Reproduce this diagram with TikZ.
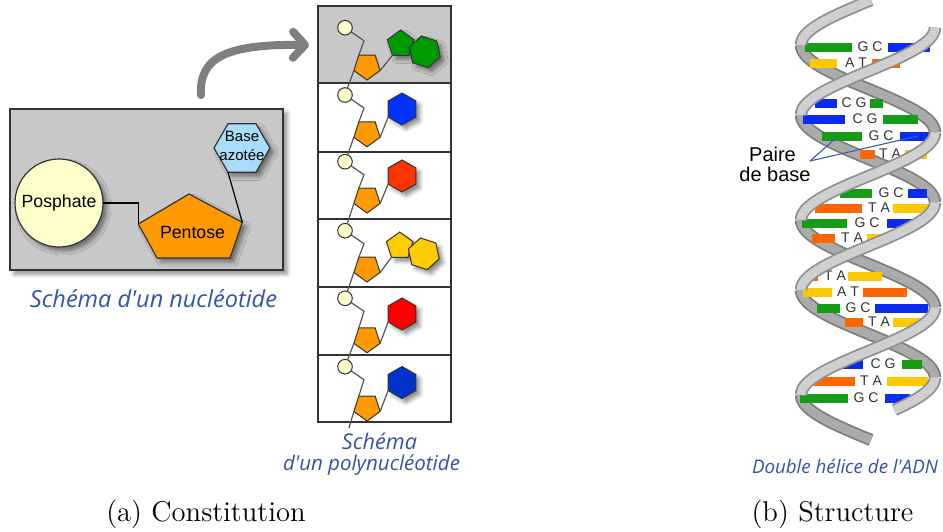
\documentclass[tikz,border=0pt]{standalone}
\usepackage{fontspec}
\usepackage{graphicx}
\usetikzlibrary{shapes.geometric,arrows.meta,shadows.blur}
\newfontfamily\labelfont{Liberation Sans}
\newfontfamily\handfont{Open Sans}

\definecolor{panelgray}{HTML}{C8C8C8}
\definecolor{edgegray}{HTML}{333333}
\definecolor{phosyellow}{HTML}{FFFFCC}
\definecolor{sugarorange}{HTML}{FF9900}
\definecolor{baseblue}{HTML}{A8DCF8}
\definecolor{arrowgray}{HTML}{7F7F7F}
\definecolor{inkblue}{HTML}{3452A8}
\definecolor{chaingray}{HTML}{555555}
\definecolor{purgreen}{HTML}{009900}
\definecolor{pyrblue}{HTML}{0033FF}
\definecolor{pyrorange}{HTML}{FF3300}
\definecolor{puryellow}{HTML}{FFCC00}
\definecolor{pyrred}{HTML}{FF0000}
\definecolor{pyrnavy}{HTML}{0033CC}
\definecolor{dnagreen}{HTML}{169B16}
\definecolor{dnablue}{HTML}{0A2BF0}
\definecolor{dnayellow}{HTML}{FFC800}
\definecolor{dnaorange}{HTML}{FF6600}
\definecolor{ribfront}{HTML}{CFCFCF}
\definecolor{ribfrontedge}{HTML}{909090}
\definecolor{ribback}{HTML}{ABABAB}
\definecolor{ribbackedge}{HTML}{7E7E7E}
\definecolor{lettergray}{HTML}{333333}
\definecolor{pointerblue}{HTML}{3A5BB0}

\tikzset{
  every node/.style={inner sep=0pt, outer sep=0pt},
  softshadow/.style={blur shadow={shadow xshift=2pt, shadow yshift=-2pt,
      shadow blur radius=2pt, shadow opacity=45}},
  panelbox/.style={rectangle, draw=edgegray, fill=panelgray, line width=0.7pt, softshadow},
  bigtext/.style={font=\labelfont\fontsize{8.85}{10}\selectfont, text=black},
  smalltext/.style={font=\labelfont\fontsize{7.5}{9}\selectfont, text=black},
  link/.style={draw=black, line width=0.6pt},
  phosbig/.style={circle, draw=edgegray, fill=phosyellow, line width=0.6pt,
      minimum size=44pt, softshadow},
  sugarbig/.style={fill=sugarorange, draw=edgegray, line width=0.6pt, softshadow},
  basebig/.style={regular polygon, regular polygon sides=6, draw=edgegray,
      fill=baseblue, line width=0.6pt, minimum size=28pt, softshadow},
  bigarrow/.style={draw=arrowgray, line width=4pt, line cap=round,
      -{Straight Barb[length=6pt,width=13pt,round]}},
  cellframe/.style={draw=edgegray, line width=0.8pt},
  phos/.style={circle, draw=edgegray, fill=phosyellow, line width=0.5pt, minimum size=7.3pt},
  sugar/.style={regular polygon, regular polygon sides=5, shape border rotate=180,
      draw=edgegray, fill=sugarorange, line width=0.5pt, minimum size=13.8pt},
  pyr/.style={regular polygon, regular polygon sides=6, shape border rotate=30,
      draw=edgegray, line width=0.5pt, minimum size=16pt, softshadow},
  purpent/.style={regular polygon, regular polygon sides=5,
      draw=edgegray, line width=0.5pt, minimum size=14pt, softshadow},
  purhex/.style={regular polygon, regular polygon sides=6, shape border rotate=-18,
      draw=edgegray, line width=0.5pt, minimum size=16.2pt, softshadow},
  chain/.style={draw=chaingray, line width=0.6pt},
  hand/.style={font=\handfont\itshape, text=inkblue},
  subcap/.style={font=\fontsize{14.3}{17}\selectfont, text=black},
  ribbonfront/.style={draw=ribfrontedge, line width=0.9pt, double=ribfront, double distance=4.4pt},
  ribbonback/.style={draw=ribbackedge, line width=0.9pt, double=ribback, double distance=4.4pt},
  basetxt/.style={font=\labelfont\fontsize{7}{8}\selectfont, text=lettergray},
  pairtxt/.style={font=\labelfont\fontsize{10}{12}\selectfont, text=black},
  pointer/.style={draw=pointerblue, line width=0.55pt},
}

% one pyrimidine nucleotide of the chain: id, phosphate y, sugar y, base y, colour
\newcommand\pyrrow[5]{%
  \node[phos] (c#1) at (345,#2) {};
  \node[sugar] (s#1) at (367,#3) {};
  \node[pyr, fill=#5] (b#1) at (402,#4) {};
  \draw[chain] (c#1) -- (364,#2+13) -- (s#1.corner 4);
  \draw[chain] (s#1.corner 2) -- (b#1.corner 3);
}
% one purine nucleotide: id, phosphate y, sugar y, ring x, ring y, colour
\newcommand\purrow[6]{%
  \node[phos] (c#1) at (345,#2) {};
  \node[sugar] (s#1) at (367,#3) {};
  \node[purpent, fill=#6] (b#1) at (#4,#5) {};
  \node[purhex, fill=#6] (h#1) at (#4+24.1,#5+7.84) {};
  \draw[chain] (c#1) -- (364,#2+13) -- (s#1.corner 4);
  \draw[chain] (s#1.corner 2) -- (b#1.corner 3);
}
% one base pair of the helix: y, left bar x1, x2, colour, letters, letters x, right bar x1, x2, colour
\newcommand\bpair[9]{%
  \fill[#4] (#2,#1-4.5) rectangle (#3,#1+4.5);
  \fill[#9] (#7,#1-4.5) rectangle (#8,#1+4.5);
  \node[basetxt] (bp#1) at (#6,#1) {#5};
}

\begin{document}
\begin{tikzpicture}[x=0.5pt, y=-0.5pt,
  declare function={sa(\t)=868+67*sin(2.0571429*(\t+86.25));
                    sb(\t)=868+67*sin(2.0571429*(\t+16.25));}]
\useasboundingbox (0,0) rectangle (943,531);

% ---------- single nucleotide ----------
\node[panelbox, minimum width=136.5pt, minimum height=80.5pt] (panel) at (146.5,189.5) {};
\coordinate (pentTop) at (189,194);
\coordinate (pentRight) at (242.3,222.3);
\coordinate (pentBR) at (230,258);
\coordinate (pentBL) at (157,258);
\coordinate (pentLeft) at (138.3,224);
\filldraw[sugarbig] (pentTop) -- (pentRight) -- (pentBR) -- (pentBL) -- (pentLeft) -- cycle;
\node[bigtext] (pentose) at (192.5,232) {Pentose};
\node[phosbig, bigtext] (posphate) at (59,203) {Posphate};
\node[basebig] (base) at (242,148) {};
\node[smalltext, anchor=base] (baseA) at (242,141.5) {Base};
\node[smalltext, anchor=base] (baseB) at (242,160) {azotée};
\draw[link] (posphate.east) -| (pentLeft);
\draw[link] (base.corner 4) -- (pentRight);

\node[hand] (capnuc) at (153.5,299) {\resizebox{123.5pt}{!}{Schéma d'un nucléotide}};

% curved arrow towards the chain
\coordinate (arrowfoot) at (201,95);
\coordinate (arrowtip) at (309,45);
\draw[bigarrow] (arrowfoot) .. controls (199,58) and (225,44) .. (arrowtip);

% ---------- polynucleotide chain ----------
\draw[cellframe, fill=panelgray] (318,6) rectangle (451,83);
\draw[cellframe] (318,83) rectangle (451,152);
\draw[cellframe] (318,152) rectangle (451,219);
\draw[cellframe] (318,219) rectangle (451,287);
\draw[cellframe] (318,287) rectangle (451,355);
\draw[cellframe] (318,355) rectangle (451,422);
\foreach \yy in {83,152,219,287,355}
  \draw[draw=edgegray, line width=1.1pt] (318,\yy) -- (451,\yy);

\purrow{1}{27.7}{66.2}{400.7}{44}{purgreen}
\pyrrow{2}{95}{133}{109}{pyrblue}
\pyrrow{3}{161.7}{199.2}{176}{pyrorange}
\purrow{4}{230.7}{268.2}{399.7}{246}{puryellow}
\pyrrow{5}{298.3}{339}{314}{pyrred}
\pyrrow{6}{366.7}{407.2}{382.5}{pyrnavy}

\coordinate (chainend) at (349,428);
\draw[chain] (s1.corner 5) -- (c2);
\draw[chain] (s2.corner 5) -- (c3);
\draw[chain] (s3.corner 5) -- (c4);
\draw[chain] (s4.corner 5) -- (c5);
\draw[chain] (s5.corner 5) -- (c6);
\draw[chain] (s6.corner 5) -- (chainend);

\node[hand] (cappolyA) at (379.5,441) {\resizebox{37.5pt}{!}{Schéma}};
\node[hand] (cappolyB) at (371.5,465) {\resizebox{88.5pt}{!}{d'un polynucléotide}};

% ---------- double helix ----------
% rear halves of both strands
\draw[ribbonback] plot[domain=45:132.5, samples=40, variable=\t] ({sa(\t)},{\t});
\draw[ribbonback] plot[domain=220:307.5, samples=40, variable=\t] ({sa(\t)},{\t});
\draw[ribbonback] plot[domain=395:440, samples=25, variable=\t] ({sa(\t)},{\t});
\draw[ribbonback] plot[domain=115:202.5, samples=40, variable=\t] ({sb(\t)},{\t});
\draw[ribbonback] plot[domain=290:377.5, samples=40, variable=\t] ({sb(\t)},{\t});

% base pairs
\bpair{47}{805}{852}{dnagreen}{G C}{870}{888}{930}{dnablue}
\bpair{63}{810}{837}{dnayellow}{A T}{856}{872}{900}{dnaorange}
\bpair{103}{815}{837}{dnablue}{C G}{854}{870}{883}{dnagreen}
\bpair{119}{803}{845}{dnablue}{C G}{865}{883}{918}{dnagreen}
\bpair{136}{822}{862}{dnagreen}{G C}{881}{900}{930}{dnablue}
\bpair{154}{860}{875}{dnaorange}{T A}{890}{905}{927}{dnayellow}
\bpair{193}{840}{872}{dnagreen}{G C}{891}{908}{927}{dnablue}
\bpair{208}{815}{862}{dnaorange}{T A}{879}{893}{928}{dnayellow}
\bpair{223}{802}{847}{dnagreen}{G C}{867}{887}{918}{dnablue}
\bpair{238}{812}{835}{dnaorange}{T A}{852}{867}{882}{dnayellow}
\bpair{276}{810}{818}{dnaorange}{T A}{835}{848}{882}{dnayellow}
\bpair{292}{803}{832}{dnayellow}{A T}{848}{863}{907}{dnaorange}
\bpair{308}{817}{840}{dnagreen}{G C}{858}{875}{928}{dnablue}
\bpair{322}{845}{863}{dnaorange}{T A}{879}{893}{928}{dnayellow}
\bpair{364}{832}{863}{dnablue}{C G}{883}{902}{922}{dnagreen}
\bpair{381}{805}{855}{dnaorange}{T A}{871}{887}{928}{dnayellow}
\bpair{398}{800}{848}{dnagreen}{G C}{866}{885}{910}{dnablue}

% front halves of both strands
\draw[ribbonfront] plot[domain=0:45, samples=30, variable=\t] ({sa(\t)},{\t});
\draw[ribbonfront] plot[domain=132.5:220, samples=40, variable=\t] ({sa(\t)},{\t});
\draw[ribbonfront] plot[domain=307.5:395, samples=40, variable=\t] ({sa(\t)},{\t});
\draw[ribbonfront] plot[domain=27.5:115, samples=40, variable=\t] ({sb(\t)},{\t});
\draw[ribbonfront] plot[domain=202.5:290, samples=40, variable=\t] ({sb(\t)},{\t});
\draw[ribbonfront] plot[domain=377.5:410, samples=20, variable=\t] ({sb(\t)},{\t});

% base pair label
\node[pairtxt, anchor=base] (paireA) at (772.5,161.5) {Paire};
\node[pairtxt, anchor=base] (paireB) at (775,181) {de base};
\coordinate (pairefoot) at (810,161);
\coordinate (gcgreen) at (836,138);
\coordinate (gcblue) at (918,136);
\draw[pointer] (pairefoot) -- (gcgreen);
\draw[pointer] (pairefoot) -- (gcblue);

\node[hand] (capdna) at (845,466) {\resizebox{93pt}{!}{Double hélice de l'ADN}};

% ---------- sub-captions ----------
\node[subcap, anchor=base] (suba) at (206,521) {(a) Constitution};
\node[subcap, anchor=base] (subb) at (832.5,521) {(b) Structure};
\end{tikzpicture}
\end{document}
